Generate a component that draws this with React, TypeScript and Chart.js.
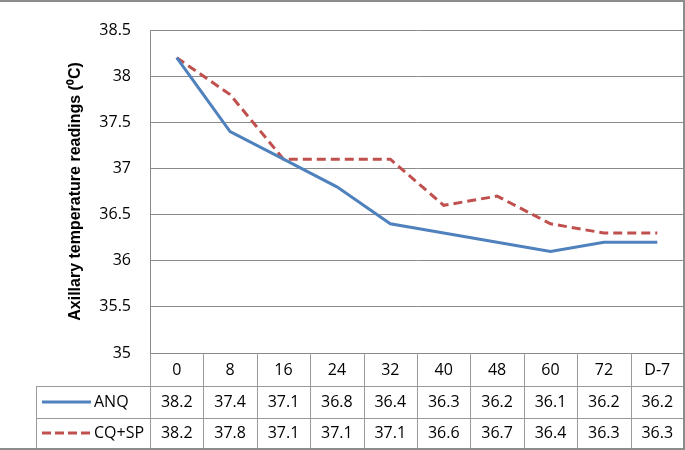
import React, { useEffect, useRef } from "react";
import { Chart, registerables } from "chart.js";

Chart.register(...registerables);

const categories = ["0", "8", "16", "24", "32", "40", "48", "60", "72", "D-7"];
const anqValues = [38.2, 37.4, 37.1, 36.8, 36.4, 36.3, 36.2, 36.1, 36.2, 36.2];
const cqspValues = [38.2, 37.8, 37.1, 37.1, 37.1, 36.6, 36.7, 36.4, 36.3, 36.3];
const seriesNames = ["ANQ", "CQ+SP"];
const yTitle = "Axillary temperature readings (\u2070C)";
const yMin = 35;
const yMax = 38.5;
const yStep = 0.5;

const BLUE = "#4F81BD";
const RED = "#C0504D";
const GRID = "#8a8a8a";
const TABLE_LINE = "#9a9a9a";
const FONT = "'Open Sans', 'Noto Sans', sans-serif";

const tablePlugin = {
  id: "dataTable",
  afterDraw(chart: any) {
    const { ctx, chartArea, scales } = chart;
    const xs = scales.x;
    const W = chart.width;
    const H = chart.height;
    const right = chartArea.right;
    const top = chartArea.bottom;
    const step = xs.getPixelForValue(1) - xs.getPixelForValue(0);
    const row1 = top + 33;
    const row2 = row1 + 32;
    const bottom = H - 2;
    const tableLeft = 36;
    ctx.save();
    ctx.lineWidth = 1;
    ctx.strokeStyle = TABLE_LINE;
    const hline = (y: number, x0: number, x1: number) => {
      const yy = Math.round(y) + 0.5;
      ctx.beginPath();
      ctx.moveTo(x0, yy);
      ctx.lineTo(x1, yy);
      ctx.stroke();
    };
    const vline = (x: number, y0: number, y1: number) => {
      const xx = Math.round(x) + 0.5;
      ctx.beginPath();
      ctx.moveTo(xx, y0);
      ctx.lineTo(xx, y1);
      ctx.stroke();
    };
    hline(row1, tableLeft, right);
    hline(row2, tableLeft, right);
    vline(tableLeft, row1, bottom);
    for (let i = 0; i <= categories.length; i++) {
      const bx = i < categories.length ? xs.getPixelForValue(i) - step / 2 : xs.getPixelForValue(categories.length - 1) + step / 2;
      vline(Math.min(bx, right - 1), top, bottom);
    }
    // outer border
    ctx.strokeStyle = "#8c8c8c";
    ctx.lineWidth = 2;
    ctx.beginPath();
    ctx.moveTo(0, 1);
    ctx.lineTo(W - 1, 1);
    ctx.lineTo(W - 1, H - 1);
    ctx.lineTo(0, H - 1);
    ctx.stroke();

    // text
    ctx.fillStyle = "#000";
    ctx.font = "16px " + FONT;
    ctx.textAlign = "center";
    ctx.textBaseline = "middle";
    const yHead = (top + row1) / 2 + 1;
    const yA = (row1 + row2) / 2;
    const yC = (row2 + bottom) / 2;
    categories.forEach((c, i) => {
      const cx = xs.getPixelForValue(i);
      ctx.fillText(c, cx, yHead);
      ctx.fillText(anqValues[i].toFixed(1), cx, yA);
      ctx.fillText(cqspValues[i].toFixed(1), cx, yC);
    });
    // legend keys
    ctx.lineWidth = 3;
    ctx.strokeStyle = BLUE;
    ctx.beginPath();
    ctx.moveTo(42, yA);
    ctx.lineTo(91, yA);
    ctx.stroke();
    ctx.strokeStyle = RED;
    ctx.setLineDash([9, 4]);
    ctx.beginPath();
    ctx.moveTo(42, yC);
    ctx.lineTo(93, yC);
    ctx.stroke();
    ctx.setLineDash([]);
    ctx.textAlign = "left";
    ctx.fillText(seriesNames[0], 94, yA);
    ctx.fillText(seriesNames[1], 94, yC);
    ctx.restore();
  },
};

export default function App() {
  const ref = useRef<HTMLCanvasElement | null>(null);
  useEffect(() => {
    if (!ref.current) return;
    const chart = new Chart(ref.current, {
      type: "line",
      data: {
        labels: categories,
        datasets: [
          {
            label: seriesNames[0],
            data: anqValues,
            borderColor: BLUE,
            backgroundColor: BLUE,
            borderWidth: 3,
            pointRadius: 0,
            tension: 0,
          },
          {
            label: seriesNames[1],
            data: cqspValues,
            borderColor: RED,
            backgroundColor: RED,
            borderWidth: 3,
            borderDash: [9, 5],
            pointRadius: 0,
            tension: 0,
          },
        ],
      },
      options: {
        responsive: false,
        animation: false,
        events: [],
        layout: { padding: { left: 0, top: 30, right: 1, bottom: 97 } },
        plugins: {
          legend: { display: false },
          tooltip: { enabled: false },
        },
        scales: {
          x: {
            display: false,
            offset: true,
          },
          y: {
            min: yMin,
            max: yMax,
            afterFit: (scale: any) => {
              scale.width = 150;
            },
            ticks: {
              stepSize: yStep,
              padding: 19,
              color: "#000",
              font: { family: FONT, size: 16 },
              callback: (v: any) => String(Number(v)),
            },
            grid: { color: GRID, drawTicks: false, lineWidth: 1 },
            border: { display: true, color: GRID },
            title: {
              display: true,
              text: yTitle,
              color: "#000",
              font: { family: "'Liberation Sans', Arial, sans-serif", size: 16, weight: "bold" },
              padding: { top: 66, bottom: 0 },
            },
          },
        },
      },
      plugins: [tablePlugin],
    });
    return () => chart.destroy();
  }, []);
  return (
    <div style={{ position: "fixed", left: 0, top: 0, width: 685, height: 450, background: "#fff" }}>
      <canvas ref={ref} width={685} height={450} style={{ display: "block" }} />
    </div>
  );
}
